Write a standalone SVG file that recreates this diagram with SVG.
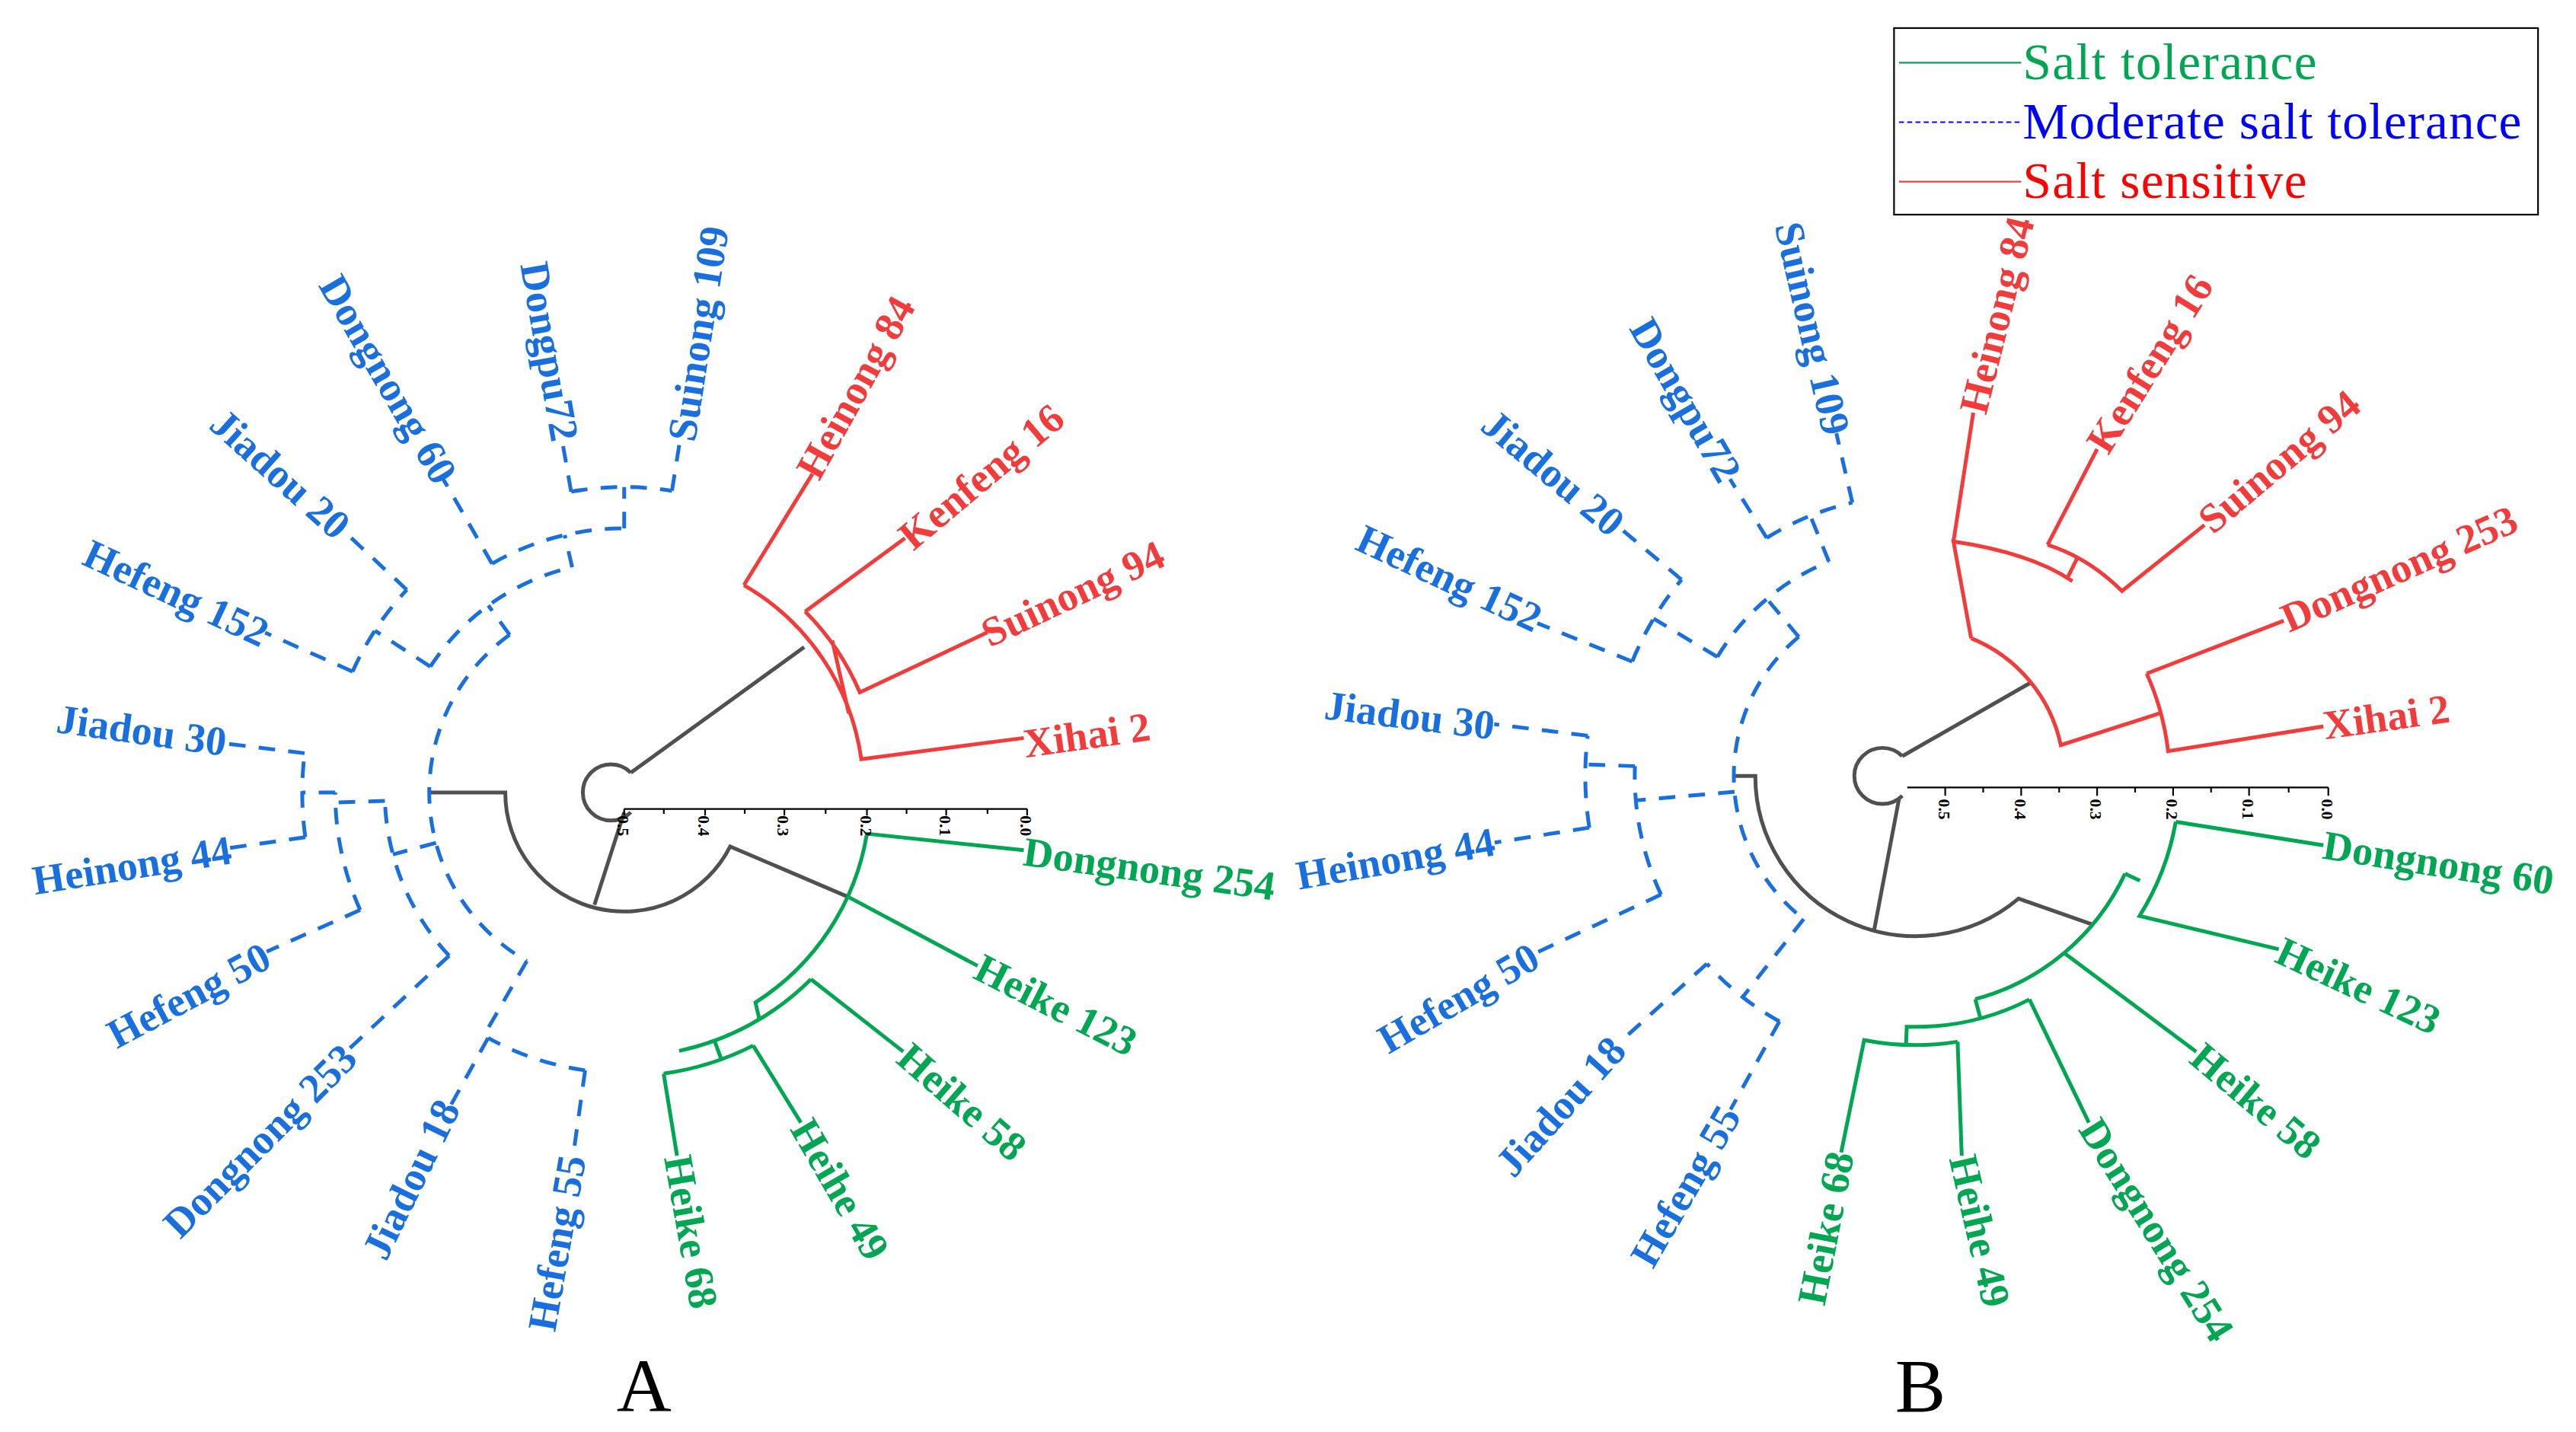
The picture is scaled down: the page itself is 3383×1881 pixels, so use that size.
<svg xmlns="http://www.w3.org/2000/svg" width="3383" height="1881" viewBox="0 0 3383 1881">
<style>
.b{stroke:#1a6fdf;stroke-width:2.3;fill:none;stroke-dasharray:10 8}
.r{stroke:#f23c3c;stroke-width:2.3;fill:none}
.g{stroke:#00a651;stroke-width:2.3;fill:none}
.k{stroke:#505050;stroke-width:2.3;fill:none}
.t{font-family:"Liberation Serif",serif;font-weight:bold;font-size:25px}
.tb{fill:#1a6fdf}.tr{fill:#f23c3c}.tg{fill:#00a651}
.ax{font-family:"Liberation Serif",serif;font-weight:bold;font-size:10px;fill:#000}
.lg{font-family:"Liberation Serif",serif;font-size:31px}
</style>
<rect width="3383" height="1881" fill="#fff"/>
<g transform="scale(2.1686)">
<g id="connectors">
<path class="k" d="M382,468 A17 17 0 1 0 382,492 M382,468 L487,392 M378,492 L360,548 M260,480 L306,480 A72 72 0 0 0 442.2,512.7 L513.9,543.4"/>
<path class="b" d="M308.6,384.5 A118 118 0 0 0 319,582.2"/>
<g transform="translate(378 480)">
<line class="b" x1="118" x2="140" transform="rotate(-126)"/>
<line class="b" x1="140" x2="180" transform="rotate(-147)"/>
<line class="b" x1="180" x2="238" transform="rotate(-156)"/>
<line class="b" x1="180" x2="232" transform="rotate(-137)"/>
<line class="b" x1="140" x2="160" transform="rotate(-103)"/>
<line class="b" x1="160" x2="219" transform="rotate(-120)"/>
<line class="b" x1="160" x2="185" transform="rotate(-90)"/>
<line class="b" x1="185" x2="218" transform="rotate(-100)"/>
<line class="b" x1="185" x2="218" transform="rotate(-81)"/>
<line class="b" x1="118" x2="145" transform="rotate(165)"/>
<line class="b" x1="145" x2="228" transform="rotate(137)"/>
<line class="b" x1="145" x2="175" transform="rotate(178)"/>
<line class="b" x1="175" x2="237" transform="rotate(156)"/>
<line class="b" x1="175" x2="195" transform="rotate(180)"/>
<line class="b" x1="195" x2="241" transform="rotate(172)"/>
<line class="b" x1="195" x2="243" transform="rotate(187)"/>
<line class="b" x1="118" x2="170" transform="rotate(120)"/>
<line class="b" x1="170" x2="222" transform="rotate(98)"/>
<line class="b" x1="170" x2="216" transform="rotate(119)"/>
</g>
<path class="b" d="M260.6,403.8 A140 140 0 0 1 346.5,343.6 M213.5,406.8 A180 180 0 0 1 246.4,357.2 M298,341.4 A160 160 0 0 1 378,320 M345.9,297.8 A185 185 0 0 1 406.9,297.3 M272,578.9 A145 145 0 0 1 233.1,485.1 M218.1,551.2 A175 175 0 0 1 203,480 M184.9,507.1 A195 195 0 0 1 184.5,456.2 M354.3,648.3 A170 170 0 0 1 295.6,628.7"/>
<path class="r" d="M450.5,354.4 A145 145 0 0 1 521.6,459.8 L620,447 M450.5,354.4 L492,287 M487.6,370.4 A155 155 0 0 1 520.7,419.4 L598,383 M487.6,370.4 L548,326 M504,388 L514,432"/>
<path class="g" d="M525,505 A150 150 0 0 1 457.5,607.2 L460,618 M525,505 L620,515 M513.9,543.4 L592,585 M491.1,593.1 A160 160 0 0 1 411.3,636.5 M491.1,593.1 L547,637 M432.7,630.4 L436.8,641.6 M456.1,633.3 A172 172 0 0 1 401.9,650.3 M456.1,633.3 L485,680 M401.9,650.3 L410,700"/>
<path class="k" d="M1152,458 A17 17 0 1 0 1152,482 M1152,458 L1229.9,413.4 M1150,484 L1134.9,563.7 M1050,470 L1063,470 A97 97 0 0 0 1222.4,544.3 L1267.2,560"/>
<path class="b" d="M1089.3,385.7 A110 110 0 0 0 1092.3,556.7 M1040,397.9 A140 140 0 0 1 1107.5,340.2 M988.5,400.6 A185 185 0 0 1 1018.3,351.1 M1069.9,325.8 A170 170 0 0 1 1121.8,304.4 M1005.9,541.9 A170 170 0 0 1 990.1,464.1 M962.5,501.3 A200 200 0 0 1 961.5,445.6 M1077.6,618.7 A170 170 0 0 1 1033.7,583.8"/>
<g transform="translate(1160 470)">
<line class="b" x1="110" x2="140" transform="rotate(-130)"/>
<line class="b" x1="140" x2="185" transform="rotate(-149)"/>
<line class="b" x1="185" x2="247" transform="rotate(-158)"/>
<line class="b" x1="185" x2="234" transform="rotate(-140)"/>
<line class="b" x1="140" x2="170" transform="rotate(-112)"/>
<line class="b" x1="170" x2="212" transform="rotate(-122)"/>
<line class="b" x1="170" x2="213" transform="rotate(-103)"/>
<line class="b" x1="110" x2="170" transform="rotate(175)"/>
<line class="b" x1="170" x2="254" transform="rotate(155)"/>
<line class="b" x1="170" x2="200" transform="rotate(182)"/>
<line class="b" x1="200" x2="258" transform="rotate(171)"/>
<line class="b" x1="200" x2="257" transform="rotate(187)"/>
<line class="b" x1="110" x2="170" transform="rotate(128)"/>
<line class="b" x1="170" x2="231" transform="rotate(119)"/>
<line class="b" x1="170" x2="242" transform="rotate(138)"/>
</g>
<path class="r" d="M1193.7,386.6 A90 90 0 0 1 1248,451.3 L1308,432 M1193.7,386.6 L1183,328 Q1230,335 1255,352 M1183,328 L1195,250 M1252,350 L1258,338 M1240,330 Q1265,338 1285,358 L1335,318 M1240,330 L1270,272 M1300,408 Q1310,430 1313,455 L1407,440 M1300,408 L1383,376"/>
<path class="g" d="M1286.9,529.2 A140 140 0 0 1 1196.2,605.2 M1286.9,529.2 L1295.9,533.4 M1317.6,497.8 A160 160 0 0 1 1295.7,554.8 L1380,575 M1317.6,497.8 L1407,512 M1250,577.2 L1330,637 M1196.2,605.2 L1199.3,616.8 M1229,605.4 A152 152 0 0 1 1154.7,621.9 L1154.3,631.9 M1229,605.4 L1265,680 M1185.5,631 A163 163 0 0 1 1128.9,630 L1115,698 M1185.5,631 L1188,700"/>
<path stroke="#000" stroke-width="1" fill="none" d="M378,490 H622 M378,490 v4 M402,490 v3 M427,490 v4 M451,490 v3 M475,490 v4 M500,490 v3 M525,490 v4 M549,490 v3 M573,490 v4 M598,490 v3 M622,490 v4"/>
<path stroke="#000" stroke-width="1" fill="none" d="M1155,477 H1410 M1178,477 v5 M1201,477 v3 M1224,477 v5 M1247,477 v3 M1270,477 v5 M1293,477 v3 M1316,477 v5 M1339,477 v3 M1362,477 v5 M1386,477 v3 M1410,477 v5"/>
</g>
<g id="axis-labels" class="ax">
<text transform="translate(374 494) rotate(90)">0.5</text>
<text transform="translate(423 494) rotate(90)">0.4</text>
<text transform="translate(471 494) rotate(90)">0.3</text>
<text transform="translate(521 494) rotate(90)">0.2</text>
<text transform="translate(569 494) rotate(90)">0.1</text>
<text transform="translate(618 494) rotate(90)">0.0</text>
<text transform="translate(1174 484) rotate(90)">0.5</text>
<text transform="translate(1220 484) rotate(90)">0.4</text>
<text transform="translate(1266 484) rotate(90)">0.3</text>
<text transform="translate(1312 484) rotate(90)">0.2</text>
<text transform="translate(1358 484) rotate(90)">0.1</text>
<text transform="translate(1406 484) rotate(90)">0.0</text>
</g>
<g id="A-labels" class="t">
<text class="tb" text-anchor="start" dy="8" transform="translate(413 267) rotate(-81)">Suinong 109</text>
<text class="tb" text-anchor="end" dy="8" transform="translate(342 267) rotate(80)">Dongpu72</text>
<text class="tb" text-anchor="end" dy="8" transform="translate(270 291) rotate(60)">Dongnong 60</text>
<text class="tb" text-anchor="end" dy="8" transform="translate(208 322) rotate(42)">Jiadou 20</text>
<text class="tb" text-anchor="end" dy="8" transform="translate(161 385) rotate(25)">Hefeng 152</text>
<text class="tb" text-anchor="end" dy="8" transform="translate(137 450) rotate(8)">Jiadou 30</text>
<text class="tb" text-anchor="end" dy="8" transform="translate(140 515) rotate(-9)">Heinong 44</text>
<text class="tb" text-anchor="end" dy="8" transform="translate(162 578) rotate(-28)">Hefeng 50</text>
<text class="tb" text-anchor="end" dy="8" transform="translate(212 637) rotate(-45)">Dongnong 253</text>
<text class="tb" text-anchor="end" dy="8" transform="translate(272 668) rotate(-64)">Jiadou 18</text>
<text class="tb" text-anchor="end" dy="8" transform="translate(347 700) rotate(-80)">Hefeng 55</text>
<text class="tg" text-anchor="start" dy="8" transform="translate(410 700) rotate(80)">Heike 68</text>
<text class="tg" text-anchor="start" dy="8" transform="translate(485 680) rotate(60)">Heihe 49</text>
<text class="tg" text-anchor="start" dy="8" transform="translate(547 637) rotate(41)">Heike 58</text>
<text class="tg" text-anchor="start" dy="8" transform="translate(592 585) rotate(27)">Heike 123</text>
<text class="tg" text-anchor="start" dy="8" transform="translate(620 516) rotate(8)">Dongnong 254</text>
<text class="tr" text-anchor="start" dy="8" transform="translate(620 451) rotate(-8)">Xihai 2</text>
<text class="tr" text-anchor="start" dy="8" transform="translate(596 385) rotate(-25)">Suinong 94</text>
<text class="tr" text-anchor="start" dy="8" transform="translate(548 328) rotate(-40)">Kenfeng 16</text>
<text class="tr" text-anchor="start" dy="8" transform="translate(489 288) rotate(-61)">Heinong 84</text>
</g>
<g id="B-labels" class="t">
<text class="tb" text-anchor="end" dy="8" transform="translate(1112 263) rotate(77)">Suinong 109</text>
<text class="tb" text-anchor="end" dy="8" transform="translate(1048 290) rotate(60)">Dongpu72</text>
<text class="tb" text-anchor="end" dy="8" transform="translate(980 320) rotate(40)">Jiadou 20</text>
<text class="tb" text-anchor="end" dy="8" transform="translate(932 376) rotate(25)">Hefeng 152</text>
<text class="tb" text-anchor="end" dy="8" transform="translate(905 440) rotate(7)">Jiadou 30</text>
<text class="tb" text-anchor="end" dy="8" transform="translate(905 510) rotate(-10)">Heinong 44</text>
<text class="tb" text-anchor="end" dy="8" transform="translate(930 578) rotate(-30)">Hefeng 50</text>
<text class="tb" text-anchor="end" dy="8" transform="translate(980 632) rotate(-48)">Jiadou 18</text>
<text class="tb" text-anchor="end" dy="8" transform="translate(1048 672) rotate(-60)">Hefeng 55</text>
<text class="tg" text-anchor="end" dy="8" transform="translate(1115 698) rotate(-79)">Heike 68</text>
<text class="tg" text-anchor="start" dy="8" transform="translate(1188 700) rotate(77)">Heihe 49</text>
<text class="tg" text-anchor="start" dy="8" transform="translate(1265 680) rotate(58)">Dongnong 254</text>
<text class="tg" text-anchor="start" dy="8" transform="translate(1330 637) rotate(40)">Heike 58</text>
<text class="tg" text-anchor="start" dy="8" transform="translate(1380 575) rotate(25)">Heike 123</text>
<text class="tg" text-anchor="start" dy="8" transform="translate(1407 512) rotate(9)">Dongnong 60</text>
<text class="tr" text-anchor="start" dy="8" transform="translate(1407 440) rotate(-8)">Xihai 2</text>
<text class="tr" text-anchor="start" dy="8" transform="translate(1383 376) rotate(-24)">Dongnong 253</text>
<text class="tr" text-anchor="start" dy="8" transform="translate(1335 318) rotate(-40)">Suinong 94</text>
<text class="tr" text-anchor="start" dy="8" transform="translate(1270 272) rotate(-58)">Kenfeng 16</text>
<text class="tr" text-anchor="start" dy="8" transform="translate(1195 250) rotate(-76)">Heinong 84</text>
</g>
<g id="legend">
<rect x="1147" y="17" width="390" height="113" fill="#fff" stroke="#000" stroke-width="1"/>
<line x1="1150" y1="38" x2="1224" y2="38" stroke="#00a651" stroke-width="1"/>
<line x1="1150" y1="74" x2="1224" y2="74" stroke="#0000ff" stroke-width="1" stroke-dasharray="3 2"/>
<line x1="1150" y1="110" x2="1224" y2="110" stroke="#f23c3c" stroke-width="1"/>
<text class="lg" x="1225" y="48" fill="#00a651" textLength="178">Salt tolerance</text>
<text class="lg" x="1225" y="84" fill="#0000ff" textLength="302">Moderate salt tolerance</text>
<text class="lg" x="1225" y="120" fill="#f00" textLength="172">Salt sensitive</text>
</g>
<g id="panel-letters" font-family="Liberation Serif, serif" font-size="46">
<text x="390" y="855" text-anchor="middle">A</text>
<text x="1163" y="855" text-anchor="middle">B</text>
</g>
</g>
</svg>
